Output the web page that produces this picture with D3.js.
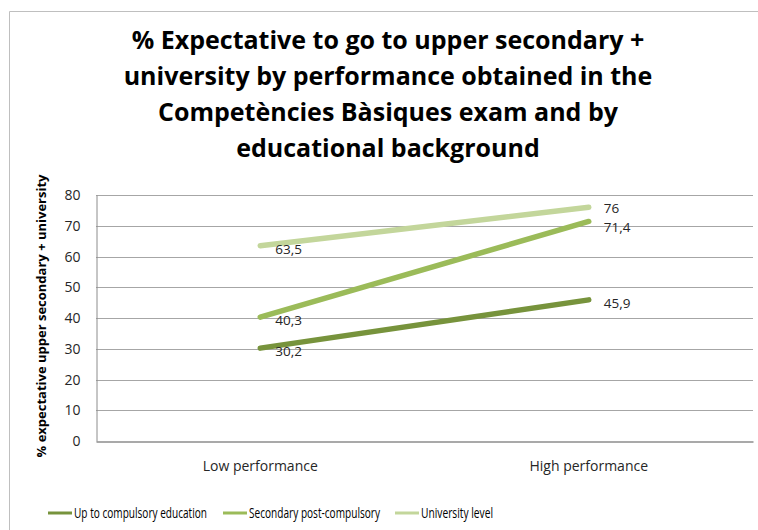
<!DOCTYPE html>
<html>
<head>
<meta charset="utf-8">
<script src="https://cdn.jsdelivr.net/npm/d3@7"></script>
<style>
  body { margin: 0; background: #fff; }
  svg { font-family: "Open Sans", sans-serif; }
</style>
</head>
<body>
<svg id="chart" width="758" height="530"></svg>
<script>
// Chart data
const categories = ["Low performance", "High performance"];
const seriesNames = ["Up to compulsory education", "Secondary post-compulsory", "University level"];
const upToCompulsory = [30.2, 45.9];
const secondaryPost = [40.3, 71.4];
const universityLevel = [63.5, 76];
const yTicks = [0, 10, 20, 30, 40, 50, 60, 70, 80];
const colors = ["#77933c", "#9bbb59", "#c3d69b"];

const titleLines = [
  "% Expectative to go to upper secondary +",
  "university by performance obtained in the",
  "Competències Bàsiques exam and by",
  "educational background"
];

const svg = d3.select("#chart");

// plot area
var margin = {top: 195, right: 5, bottom: 89, left: 96},
    width = 758,
    height = 530;

// outer frame (left + top edges visible)
svg.append("path")
  .attr("d", "M9.5,530 L9.5,11.5 L758,11.5")
  .attr("fill", "none")
  .attr("stroke", "#bfbfbf")
  .attr("stroke-width", 1);

const xScale = d3.scaleBand()
  .domain(categories)
  .range([margin.left, width - margin.right]);

const yScale = d3.scaleLinear()
  .domain([0, 80])
  .range([height - margin.bottom, margin.top]);

// gridlines
svg.append("g")
  .selectAll("line")
  .data(yTicks.filter(d => d > 0))
  .enter()
  .append("line")
  .attr("x1", margin.left)
  .attr("x2", width - margin.right)
  .attr("y1", d => Math.round(yScale(d)) + 0.5)
  .attr("y2", d => Math.round(yScale(d)) + 0.5)
  .attr("stroke", "#a6a6a6")
  .attr("stroke-width", 1);

// y axis
const yAxis = d3.axisLeft(yScale).tickValues(yTicks).tickSize(0).tickPadding(16);
const gy = svg.append("g")
  .attr("transform", `translate(${margin.left + 0.5}, 0)`)
  .call(yAxis);
gy.select(".domain").attr("stroke", "#8c8c8c");
gy.selectAll("text")
  .style("font-size", "14px")
  .style("font-family", "'Open Sans', sans-serif")
  .attr("fill", "#262626");
gy.selectAll(".tick").attr("transform", d => `translate(0, ${Math.round(yScale(d)) + 0.5})`);

// x axis
const xAxis = d3.axisBottom(xScale).tickSize(0).tickPadding(20);
const gx = svg.append("g")
  .attr("transform", `translate(0, ${Math.round(yScale(0)) + 0.5})`)
  .call(xAxis);
gx.select(".domain").attr("stroke", "#8c8c8c").attr("stroke-width", 1.5);
gx.selectAll("text")
  .style("font-size", "14px")
  .style("font-family", "'Open Sans', sans-serif")
  .attr("fill", "#262626");

// series lines
const allSeries = [upToCompulsory, secondaryPost, universityLevel];
const line = d3.line()
  .x((d, i) => xScale(categories[i]) + xScale.bandwidth() / 2)
  .y(d => yScale(d));

// small vertical nudges so the two close labels on the right don't collide
const labelNudge = [[0, 0], [0, 2.5], [0, -2.5]];

allSeries.forEach(function(vals, s) {
  svg.append("path")
    .datum(vals)
    .attr("d", line)
    .attr("fill", "none")
    .attr("stroke", colors[s])
    .attr("stroke-width", 5.5)
    .attr("stroke-linecap", "round");

  // data labels
  svg.selectAll(".lbl" + s)
    .data(vals)
    .enter()
    .append("text")
    .attr("x", (d, i) => xScale(categories[i]) + xScale.bandwidth() / 2 + 15)
    .attr("y", (d, i) => yScale(d) + 8 + labelNudge[s][i])
    .style("font-size", "13.5px")
    .style("font-family", "'Open Sans', sans-serif")
    .attr("fill", "#262626")
    .text(d => String(d).replace(".", ","));
});

// title
svg.append("g")
  .selectAll("text")
  .data(titleLines)
  .enter()
  .append("text")
  .attr("x", 388)
  .attr("y", (d, i) => 49 + i * 36)
  .attr("text-anchor", "middle")
  .style("font-size", "25px")
  .style("font-weight", "bold")
  .attr("fill", "#000")
  .text(d => d);

// y axis title
svg.append("text")
  .attr("transform", "translate(46, 316) rotate(-90)")
  .attr("text-anchor", "middle")
  .style("font-size", "13px")
  .style("font-weight", "bold")
  .style("font-family", "'Open Sans', sans-serif")
  .attr("fill", "#000")
  .text("% expectative upper secondary + university");

// legend (narrow font in original, so squeeze text to its width)
const legendX = [48, 223, 395];
const legendTextW = [133, 131, 72];
const legend = svg.append("g")
  .selectAll("g")
  .data(seriesNames)
  .enter()
  .append("g")
  .attr("transform", (d, i) => `translate(${legendX[i]}, 513)`);
legend.append("line")
  .attr("x1", 0).attr("x2", 24)
  .attr("stroke", (d, i) => colors[i])
  .attr("stroke-width", 3);
legend.append("text")
  .attr("x", 26)
  .attr("y", 5)
  .attr("textLength", (d, i) => legendTextW[i])
  .attr("lengthAdjust", "spacingAndGlyphs")
  .style("font-size", "14px")
  .attr("fill", "#000")
  .text(d => d);
</script>
</body>
</html>
